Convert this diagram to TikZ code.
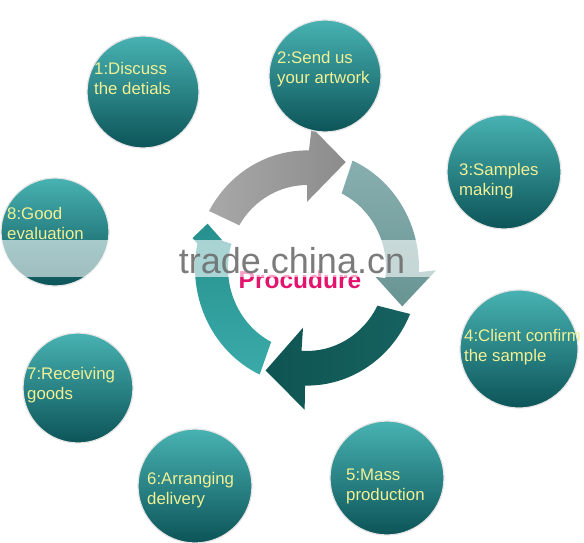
\documentclass[tikz,border=0pt]{standalone}
\usepackage{fontspec}
\setmainfont{Liberation Sans}

\definecolor{stagetext}{RGB}{240,240,150}
\definecolor{ballTop}{RGB}{72,178,178}
\definecolor{ballMid}{RGB}{28,130,132}
\definecolor{ballBot}{RGB}{12,84,88}
\definecolor{arcGrayA}{RGB}{168,168,168}
\definecolor{arcGrayB}{RGB}{140,140,140}
\definecolor{arcLightA}{RGB}{136,175,175}
\definecolor{arcLightB}{RGB}{104,148,147}
\definecolor{arcDarkA}{RGB}{14,84,82}
\definecolor{arcDarkB}{RGB}{22,98,96}
\definecolor{arcTealA}{RGB}{38,144,142}
\definecolor{arcTealB}{RGB}{58,170,168}
\definecolor{procpink}{RGB}{226,20,110}
\definecolor{markgray}{RGB}{110,110,110}

\tikzstyle{stage} = [circle, draw=gray!20, line width=1.2pt, top color=ballTop, middle color=ballMid, bottom color=ballBot, inner sep=0pt]
\tikzstyle{stagelabel} = [anchor=base west, align=left, inner sep=0pt, text=stagetext, font=\fontsize{16.8}{20}\selectfont]

\begin{document}
\begin{tikzpicture}[
        x=1pt,
        y=-1pt,
        line join=round
    ]
        \useasboundingbox (0,0) rectangle (584,543);

        % four arrows of the ring
        \begin{scope}[shift={(307,268)}, yscale=1.05]
            \shade[left color=arcGrayA, right color=arcGrayB]
                (-151:112) arc[start angle=-151, end angle=-89, radius=112]
                -- (-88:134) -- (-69:108) -- (-90:63) -- (-90:79)
                arc[start angle=-90, end angle=-149, radius=79] -- cycle;
            \shade[top color=arcLightA, bottom color=arcLightB]
                (-66:112) arc[start angle=-66, end angle=2, radius=112]
                -- (1:129) -- (21:102) -- (7:69) -- (7:79)
                arc[start angle=7, end angle=-64, radius=79] -- cycle;
            \shade[left color=arcDarkA, right color=arcDarkB]
                (23:112) arc[start angle=23, end angle=91, radius=112]
                -- (91:135) -- (113:106) -- (94:57) -- (94:79)
                arc[start angle=94, end angle=27, radius=79] -- cycle;
            \shade[top color=arcTealA, bottom color=arcTealB]
                (115:112) arc[start angle=115, end angle=192, radius=112]
                -- (194:118) -- (203:108) -- (197:88) -- (197:79)
                arc[start angle=197, end angle=117, radius=79] -- cycle;
        \end{scope}

        % centre title
        \node[anchor=base, inner sep=0pt, text=procpink,
            font=\bfseries\fontsize{24.5}{24.5}\selectfont] (title) at (300,288) {Procudure};

        % the eight stages
        \node[stage, minimum size=112pt] (s1) at (143,92)  {};
        \node[stage, minimum size=112pt] (s2) at (325,76)  {};
        \node[stage, minimum size=114pt] (s3) at (504,172) {};
        \node[stage, minimum size=118pt] (s4) at (519,349) {};
        \node[stage, minimum size=114pt] (s5) at (387,478) {};
        \node[stage, minimum size=114pt] (s6) at (195,486) {};
        \node[stage, minimum size=110pt] (s7) at (78,388)  {};
        \node[stage, minimum size=108pt] (s8) at (55,232)  {};

        % labels, base is the second line
        \node[stagelabel] (t1) at (94,95)   {1:Discuss\\the detials};
        \node[stagelabel] (t2) at (277,84)  {2:Send us\\your artwork};
        \node[stagelabel] (t3) at (459,195) {3:Samples\\making};
        \node[stagelabel] (t4) at (464,361) {4:Client confirm\\the sample};
        \node[stagelabel] (t5) at (346,500) {5:Mass\\production};
        \node[stagelabel] (t6) at (147,504) {6:Arranging\\delivery};
        \node[stagelabel] (t7) at (27,399)  {7:Receiving\\goods};
        \node[stagelabel] (t8) at (7,239)   {8:Good\\evaluation};

        % watermark band
        \fill[white, opacity=0.6] (0,240) rectangle (440,277);
        \node[anchor=base, inner sep=0pt, text=markgray, opacity=0.9,
            font=\fontsize{36}{36}\selectfont] (mark) at (292,273) {trade.china.cn};

    \end{tikzpicture}
\end{document}
